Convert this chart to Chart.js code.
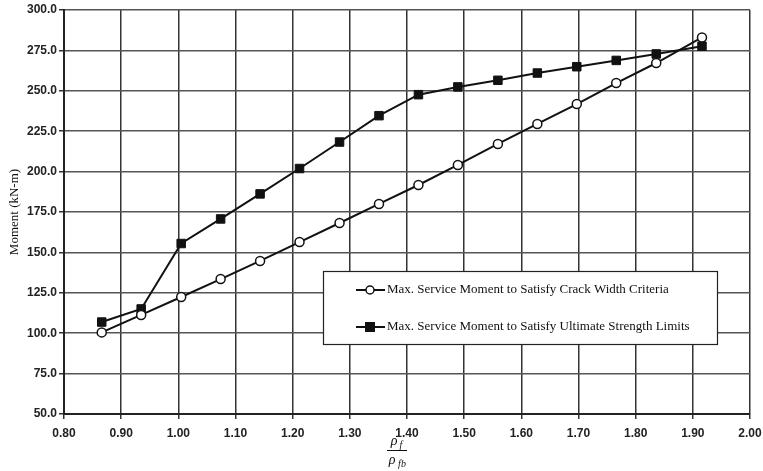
<!DOCTYPE html>
<html>
<head>
<meta charset="utf-8">
<script src="https://cdn.jsdelivr.net/npm/chart.js@4.4.0/dist/chart.umd.min.js"></script>
<style>
  html, body { margin: 0; padding: 0; background: #fff; }
  #wrap { width: 763px; height: 471px; }
</style>
</head>
<body>
<div id="wrap"><canvas id="myChart" width="763" height="471"></canvas></div>
<script>
// ratio rho_f / rho_fb for each design point
const ratio = [0.866, 0.935, 1.005, 1.074, 1.143, 1.212, 1.282, 1.351, 1.420, 1.489, 1.559, 1.628, 1.697, 1.766, 1.836, 1.916];
// max service moment, crack width criteria (kN-m)
const crackMoment = [100.5, 111.3, 122.4, 133.5, 144.7, 156.4, 168.2, 180.0, 191.7, 204.1, 217.1, 229.5, 241.8, 254.8, 267.2, 283.0];
// max service moment, ultimate strength limits (kN-m)
const ultMoment = [106.9, 115.0, 155.5, 170.7, 186.2, 201.9, 218.3, 234.6, 247.6, 252.4, 256.5, 261.0, 264.9, 268.8, 272.8, 277.6];

const seriesNames = [
  'Max. Service Moment to Satisfy Crack Width Criteria',
  'Max. Service Moment to Satisfy Ultimate Strength Limits'
];

function toPoints(xs, ys) {
  return xs.map(function (x, i) { return { x: x, y: ys[i] }; });
}

// draws the boxed legend inside the plot and the fraction title under the x axis
const extras = {
  id: 'extras',
  afterDraw(chart) {
    const ctx = chart.ctx;
    ctx.save();

    // legend box
    const bx = 323, by = 271, bw = 394, bh = 73;
    ctx.fillStyle = '#fff';
    ctx.fillRect(bx, by, bw, bh);
    ctx.strokeStyle = '#222';
    ctx.lineWidth = 1.2;
    ctx.strokeRect(bx + 0.5, by + 0.5, bw, bh);

    const rows = [290, 327];
    ctx.font = '13px "Liberation Serif", "DejaVu Serif", serif';
    ctx.textBaseline = 'middle';
    rows.forEach(function (ry, i) {
      ctx.strokeStyle = '#111';
      ctx.lineWidth = 2;
      ctx.beginPath();
      ctx.moveTo(356, ry);
      ctx.lineTo(385, ry);
      ctx.stroke();
      if (i === 0) {
        ctx.beginPath();
        ctx.arc(370, ry, 4, 0, Math.PI * 2);
        ctx.fillStyle = '#fff';
        ctx.fill();
        ctx.lineWidth = 1.5;
        ctx.stroke();
      } else {
        ctx.fillStyle = '#111';
        ctx.fillRect(365, ry - 5, 10, 10);
      }
      ctx.fillStyle = '#111';
      ctx.textAlign = 'left';
      ctx.fillText(seriesNames[i], 387, ry);
    });

    // x axis title: rho_f / rho_fb
    const cx = 397;
    ctx.fillStyle = '#111';
    ctx.textAlign = 'center';
    ctx.font = 'italic 14px "Liberation Serif", serif';
    ctx.fillText('\u03C1', cx - 3, 441);
    ctx.font = 'italic 10px "Liberation Serif", serif';
    ctx.fillText('f', cx + 4, 445);
    ctx.lineWidth = 1;
    ctx.beginPath();
    ctx.moveTo(cx - 10, 450.5);
    ctx.lineTo(cx + 10, 450.5);
    ctx.stroke();
    ctx.font = 'italic 14px "Liberation Serif", serif';
    ctx.fillText('\u03C1', cx - 5, 460);
    ctx.font = 'italic 10px "Liberation Serif", serif';
    ctx.fillText('fb', cx + 5, 464);

    // y axis title
    ctx.translate(15, 212);
    ctx.rotate(-Math.PI / 2);
    ctx.font = '13px "Liberation Serif", serif';
    ctx.fillText('Moment (kN-m)', 0, 0);
    ctx.restore();
  }
};

const tickFont = { family: '"Liberation Sans", Arial, sans-serif', size: 12, weight: 'bold' };

const ctx = document.getElementById('myChart').getContext('2d');
new Chart(ctx, {
  type: 'scatter',
  data: {
    datasets: [{
      label: seriesNames[0],
      data: toPoints(ratio, crackMoment),
      showLine: true,
      borderColor: '#111',
      borderWidth: 2,
      pointStyle: 'circle',
      pointRadius: 4.5,
      pointBackgroundColor: '#fff',
      pointBorderColor: '#111',
      pointBorderWidth: 1.5
    }, {
      label: seriesNames[1],
      data: toPoints(ratio, ultMoment),
      showLine: true,
      borderColor: '#111',
      borderWidth: 2,
      pointStyle: 'rect',
      pointRadius: 6,
      pointBackgroundColor: '#111',
      pointBorderColor: '#111',
      pointBorderWidth: 1
    }]
  },
  options: {
    responsive: false,
    animation: false,
    layout: { padding: { top: 10, right: 0, left: 0, bottom: 0 } },
    plugins: { legend: { display: false }, tooltip: { enabled: false } },
    scales: {
      x: {
        type: 'linear',
        min: 0.8,
        max: 2.0,
        afterFit: function (s) {
          s.height = 57;
          s.paddingRight = 13;
          s.paddingLeft = 0;
        },
        afterBuildTicks: function (s) {
          const t = [];
          for (let i = 0; i <= 12; i++) t.push({ value: +(0.8 + i * 0.1).toFixed(2) });
          s.ticks = t;
        },
        ticks: {
          font: tickFont,
          color: '#222',
          padding: 7,
          maxRotation: 0,
          callback: function (v) { return v.toFixed(2); }
        },
        grid: { color: '#333', lineWidth: 1.5, tickLength: 5, tickColor: '#333' },
        border: { color: '#222', width: 2 }
      },
      y: {
        min: 50,
        max: 300,
        afterFit: function (s) { s.width = 64; },
        ticks: {
          stepSize: 25,
          font: tickFont,
          color: '#222',
          padding: 2,
          callback: function (v) { return v.toFixed(1); }
        },
        grid: { color: '#555', lineWidth: 1.5, tickLength: 5, tickColor: '#333' },
        border: { color: '#222', width: 2 }
      }
    }
  },
  plugins: [extras]
});
</script>
</body>
</html>
